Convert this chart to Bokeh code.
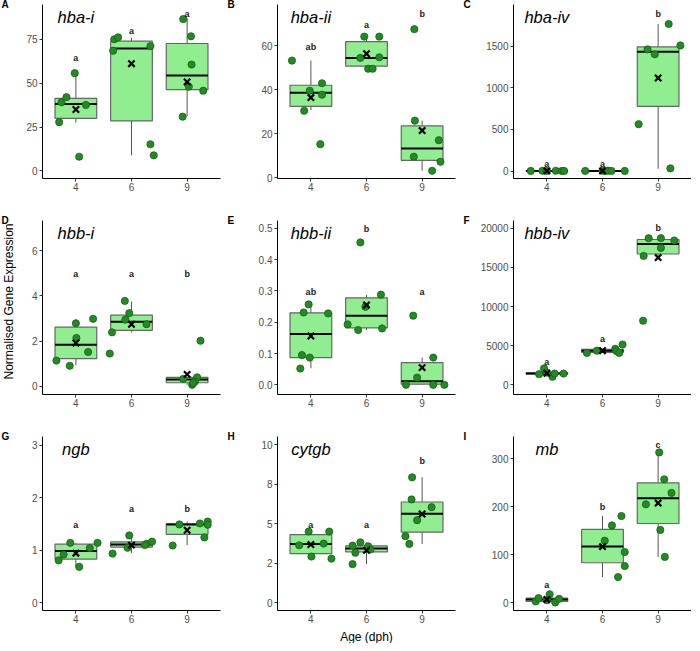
from math import pi
import numpy as np
from bokeh.plotting import figure
from bokeh.models import Range1d, FixedTicker, Label, ColumnDataSource
from bokeh.layouts import gridplot
from bokeh.embed import file_html
from bokeh.resources import INLINE
from bokeh.core.properties import value

# ---------------- data ----------------
ages = ["4", "6", "9"]
genes = ["hba-i", "hba-ii", "hba-iv", "hbb-i", "hbb-ii", "hbb-iv", "ngb", "cytgb", "mb"]
panel_tags = ["A", "B", "C", "D", "E", "F", "G", "H", "I"]

# box statistics per panel, groups 4 / 6 / 9 dph
box_lower = [[27.6, 8.9, 31.3], [30.7, 49.5, 3.1], [0.3, 0.2, 27], [0.93, 2.39, 0.07], [0.053, 0.175, 0.0],
             [1300, 4074, 16460], [0.684, 0.949, 1.097], [2.79, 2.44, 3.72], [0.5, 53.5, 95.5]]
box_q1 = [[30.0, 28.5, 46.3], [32.4, 50.7, 7.8], [0.8, 0.6, 777], [1.23, 2.48, 0.16], [0.087, 0.182, 0.002],
          [1400, 4156, 16707], [0.832, 1.06, 1.30], [3.10, 3.22, 4.46], [2.7, 83.3, 165.2]]
box_median = [[38.1, 69.8, 54.3], [38.6, 54.4, 13.2], [1.4, 1.2, 1433], [1.84, 2.86, 0.30], [0.162, 0.221, 0.011],
              [1460, 4362, 17983], [0.986, 1.109, 1.49], [3.72, 3.43, 5.63], [6.8, 117.2, 218.0]]
box_q3 = [[41.3, 73.9, 72.6], [42.0, 61.8, 23.5], [2.6, 2.4, 1492], [2.62, 3.15, 0.40], [0.230, 0.278, 0.071],
          [1530, 4527, 18560], [1.115, 1.158, 1.503], [4.31, 3.59, 6.37], [9.5, 153.0, 249.9]]
box_upper = [[56.5, 75.7, 86.9], [53.2, 64.4, 25.9], [4.0, 3.8, 1766], [2.98, 3.75, 0.40], [0.262, 0.287, 0.087],
             [1600, 4609, 18765], [1.14, 1.24, 1.546], [4.50, 3.82, 7.93], [17.6, 180.8, 313.5]]
group_mean = [[35.0, 61.1, 50.7], [36.4, 56.3, 21.4], [1.6, 1.5, 1117], [1.92, 2.75, 0.53], [0.156, 0.255, 0.055],
              [1481, 4362, 16254], [0.943, 1.097, 1.380], [3.68, 3.31, 5.61], [6.8, 117.0, 207.9]]

# individual samples (values and horizontal jitter, per group)
hba_i_values = [[27.8, 39.1, 42.0, 55.7, 37.6, 8.1], [68.5, 75.0, 76.1, 71.1, 15.2, 8.9], [86.5, 76.7, 60.6, 48.0, 30.9, 45.7]]
hba_i_jitter = [[-0.30, -0.26, -0.17, -0.02, 0.18, 0.06], [-0.33, -0.31, -0.24, 0.34, 0.34, 0.40], [-0.07, 0.07, 0.08, 0.03, -0.08, 0.29]]
hba_ii_values = [[53.2, 39.5, 42.9, 37.7, 30.4, 15.2], [64.1, 64.1, 54.4, 54.7, 49.5, 49.5], [67.5, 25.9, 17.0, 9.5, 7.2, 3.1]]
hba_ii_jitter = [[-0.34, -0.02, 0.20, 0.20, -0.12, 0.17], [-0.04, 0.23, -0.11, 0.23, 0.03, 0.11], [-0.14, -0.13, 0.30, -0.15, 0.33, 0.18]]
hba_iv_values = [[1.0, 2.5, 0.8, 3.0, 1.5, 0.6], [0.5, 2.0, 1.2, 3.5, 0.9, 1.0], [1766, 1508, 1461, 1402, 562, 31]]
hba_iv_jitter = [[-0.29, -0.08, 0.0, 0.16, 0.27, 0.31], [-0.31, 0.0, 0.05, 0.10, 0.16, 0.40], [0.19, 0.40, -0.19, -0.06, -0.35, 0.22]]
hbb_i_values = [[2.79, 2.99, 2.14, 1.52, 1.14, 0.91], [3.78, 3.24, 2.95, 2.75, 2.39, 1.45], [2.02, 0.33, 0.40, 0.21, 0.07, 0.15]]
hbb_i_jitter = [[0.0, 0.31, 0.01, 0.22, -0.35, -0.11], [-0.12, -0.04, -0.11, 0.27, -0.35, -0.39], [0.24, -0.07, 0.18, 0.14, 0.09, 0.11]]
hbb_ii_values = [[0.257, 0.231, 0.228, 0.095, 0.087, 0.052], [0.455, 0.288, 0.249, 0.193, 0.175, 0.180], [0.221, 0.087, 0.023, 0.0, 0.0, 0.0]]
hbb_ii_jitter = [[-0.04, -0.13, 0.31, -0.16, -0.02, -0.19], [-0.11, 0.26, -0.02, -0.34, -0.15, 0.28], [-0.16, 0.20, -0.09, -0.29, 0.20, 0.40]]
hbb_iv_values = [[1358, 2099, 1560, 1029, 1440, 1440], [4074, 4362, 4609, 4321, 4074, 5144], [18724, 18724, 18435, 17489, 16460, 8189]]
hbb_iv_jitter = [[-0.14, -0.05, 0.0, 0.10, 0.14, 0.30], [-0.28, -0.10, 0.23, 0.25, 0.30, 0.36], [-0.17, 0.05, 0.29, 0.05, -0.26, -0.27]]
ngb_values = [[0.807, 0.918, 1.140, 1.041, 1.140, 0.684], [0.936, 1.281, 1.047, 1.121, 1.164, 1.10], [1.09, 1.491, 1.509, 1.546, 1.485, 1.244]]
ngb_jitter = [[-0.31, -0.22, -0.10, 0.25, 0.39, 0.06], [-0.34, -0.04, -0.07, 0.27, 0.37, 0.24], [-0.26, -0.14, 0.23, 0.37, 0.37, 0.31]]
cytgb_values = [[4.50, 4.50, 3.63, 3.74, 2.92, 2.79], [3.82, 3.61, 3.57, 3.37, 3.16, 2.44], [7.93, 6.53, 6.04, 5.22, 4.21, 3.72]]
cytgb_jitter = [[-0.04, 0.33, -0.21, 0.23, 0.01, 0.37], [-0.11, -0.25, 0.03, 0.07, -0.20, -0.25], [-0.18, -0.19, 0.17, -0.09, -0.30, -0.23]]
mb_values = [[2.7, 9.5, 5.0, 17.6, 0.5, 8.1], [180.8, 161.2, 129.3, 105.6, 76.5, 53.5], [313.5, 257.3, 228.9, 205.2, 151.7, 95.5]]
mb_jitter = [[-0.20, -0.15, 0.0, 0.05, 0.15, 0.22], [0.34, 0.17, 0.04, 0.40, 0.40, 0.28], [0.02, 0.11, 0.24, -0.22, 0.04, 0.12]]

sample_values = [hba_i_values, hba_ii_values, hba_iv_values, hbb_i_values, hbb_ii_values,
                 hbb_iv_values, ngb_values, cytgb_values, mb_values]
sample_jitter = [hba_i_jitter, hba_ii_jitter, hba_iv_jitter, hbb_i_jitter, hbb_ii_jitter,
                 hbb_iv_jitter, ngb_jitter, cytgb_jitter, mb_jitter]

# significance letters
sig_letters = [["a", "a", "a"], ["ab", "a", "b"], ["a", "a", "b"], ["a", "a", "b"], ["ab", "b", "a"],
               ["a", "a", "b"], ["a", "a", "b"], ["a", "a", "b"], ["a", "b", "c"]]
sig_letter_y = [[64.3, 79.6, 89.4], [59.6, 69.6, 74.5], [86, 86, 1887], [4.96, 4.96, 4.96], [0.298, 0.498, 0.296],
                [2922, 5843, 20000], [1.485, 1.78, 1.78], [4.93, 4.93, 8.93], [37.9, 199, 329]]

# axes
y_limits = [(-4.3, 94.8), (-0.4, 78.7), (-90, 2000), (-0.36, 7.34), (-0.031, 0.525),
            (-1235, 20987), (-0.148, 3.166), (-0.49, 10.51), (-16.3, 346.7)]
y_ticks = [[0, 25, 50, 75], [0, 20, 40, 60], [0, 500, 1000, 1500], [0, 2, 4, 6],
           [0, 0.1, 0.2, 0.3, 0.4, 0.5], [0, 5000, 10000, 15000, 20000], [0, 1, 2, 3],
           [0, 2.5, 5, 7.5, 10], [0, 100, 200, 300]]
y_tick_labels = [["0", "25", "50", "75"], ["0", "20", "40", "60"], ["0", "500", "1000", "1500"], ["0", "2", "4", "6"],
                 ["0.0", "0.1", "0.2", "0.3", "0.4", "0.5"], ["0", "5000", "10000", "15000", "20000"],
                 ["0", "1", "2", "3"], ["0", "2", "5", "8", "10"], ["0", "100", "200", "300"]]
y_axis_title = "Normalised Gene Expression"
x_axis_title = "Age (dph)"

# ---------------- layout / style ----------------
FONT = "Liberation Sans"
X_LO, X_HI = 0.4, 3.6
col_w = [222, 235, 234]
col_left = [42, 55, 56]
tag_px = [41, 50, 50]          # tag distance left of the frame, px
row_h = [216, 216, 211]
row_bottom = [38, 38, 33]
TOP = 4
FRAME_W = 178
BOX_W = 0.75
px_per_x = FRAME_W / (X_HI - X_LO)

grid = [[None] * 3 for _ in range(3)]
for k, gene in enumerate(genes):
    r, c = divmod(k, 3)
    frame_h = row_h[r] - TOP - row_bottom[r]
    y_lo, y_hi = y_limits[k]
    px_per_y = frame_h / (y_hi - y_lo)
    p = figure(width=col_w[c], height=row_h[r],
               x_range=Range1d(X_LO, X_HI), y_range=Range1d(y_lo, y_hi),
               output_backend="svg", toolbar_location=None,
               min_border_left=col_left[c], min_border_right=col_w[c] - col_left[c] - FRAME_W,
               min_border_top=TOP, min_border_bottom=row_bottom[r])
    p.outline_line_color = None
    p.xgrid.visible = False
    p.ygrid.visible = False
    p.background_fill_color = "white"
    p.border_fill_color = "white"

    xs = np.array([1, 2, 3], dtype=float)
    src = ColumnDataSource(dict(
        x=xs, x0=xs - BOX_W / 2, x1=xs + BOX_W / 2,
        lo=box_lower[k], q1=box_q1[k], med=box_median[k], q3=box_q3[k], hi=box_upper[k],
        mean=group_mean[k], lab=sig_letters[k], laby=sig_letter_y[k]))

    p.segment(x0="x", y0="q3", x1="x", y1="hi", source=src, line_color="#555555", line_width=1)
    p.segment(x0="x", y0="lo", x1="x", y1="q1", source=src, line_color="#555555", line_width=1)
    p.vbar(x="x", width=BOX_W, bottom="q1", top="q3", source=src,
           fill_color="#90EE90", line_color="#666666", line_width=1.2)
    p.segment(x0="x0", y0="med", x1="x1", y1="med", source=src, line_color="black", line_width=2)

    pxs, pys = [], []
    for g in range(3):
        for v, j in zip(sample_values[k][g], sample_jitter[k][g]):
            pxs.append(g + 1 + j)
            pys.append(v)
    p.scatter(pxs, pys, size=7.2, fill_color="#238B23", line_color="#176117", line_width=0.8)

    p.scatter(x="x", y="mean", source=src, marker="x", size=9, line_color="black", line_width=2.2)

    p.text(x="x", y="laby", text="lab", source=src, text_font=value(FONT), text_font_style="bold",
           text_font_size="9px", text_align="center", text_baseline="middle", text_color="#1a1a1a")

    for ax in (p.xaxis[0], p.yaxis[0]):
        ax.axis_line_color = "black"
        ax.axis_line_width = 1
        ax.major_tick_line_color = "#333333"
        ax.major_tick_out = 3
        ax.major_tick_in = 0
        ax.minor_tick_line_color = None
        ax.major_label_text_font = FONT
        ax.major_label_text_font_size = "10px"
        ax.major_label_text_color = "#4D4D4D"
        ax.major_label_standoff = 2
    p.xaxis.major_label_standoff = 1
    p.xaxis.ticker = FixedTicker(ticks=[1, 2, 3])
    p.xaxis.major_label_overrides = {1: ages[0], 2: ages[1], 3: ages[2]}
    p.yaxis.ticker = FixedTicker(ticks=y_ticks[k])
    p.yaxis.major_label_overrides = {t: s for t, s in zip(y_ticks[k], y_tick_labels[k])}

    # gene name (inside the frame)
    p.add_layout(Label(x=1, y=frame_h - 3, x_units="data", y_units="screen", text=gene,
                       text_font=FONT, text_font_style="italic", text_font_size="16.5px",
                       text_align="center", text_baseline="top", text_color="black"))
    # panel tag (side panel, so it is not clipped to the frame)
    p.add_layout(Label(x=X_LO - tag_px[c] / px_per_x, y=y_hi, text=panel_tags[k],
                       text_font=FONT, text_font_style="bold", text_font_size="10px",
                       text_align="left", text_baseline="middle", text_color="black"), "left")
    if k == 3:
        p.add_layout(Label(x=X_LO - 41 / px_per_x, y=(y_lo + y_hi) / 2 + 6 / px_per_y,
                           text=y_axis_title, angle=pi / 2, text_font=FONT, text_font_size="12px",
                           text_align="center", text_baseline="top", text_color="black"), "left")
    if k == 7:
        p.add_layout(Label(x=2, y=y_lo - 19 / px_per_y, text=x_axis_title,
                           text_font=FONT, text_font_size="12px", text_align="center",
                           text_baseline="top", text_color="black"), "below")
    grid[r][c] = p

layout = gridplot(grid, toolbar_location=None)
open("out.html", "w").write(file_html(layout, INLINE))
